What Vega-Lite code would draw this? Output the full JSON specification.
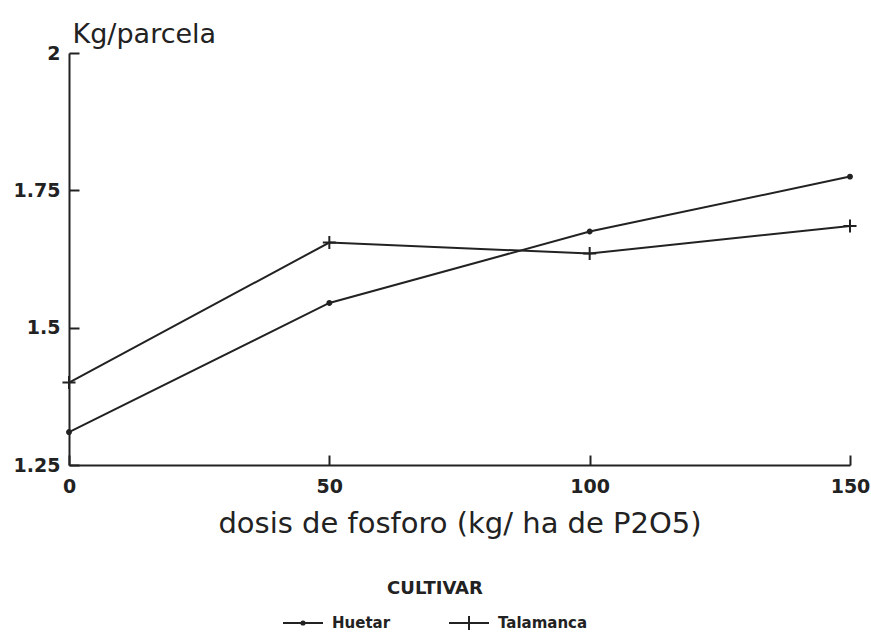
{
  "$schema": "https://vega.github.io/schema/vega-lite/v6.json",
  "width": 781,
  "height": 412,
  "autosize": "none",
  "padding": {"left": 69, "top": 53, "right": 21, "bottom": 170},
  "background": "white",
  "config": {
    "view": {"stroke": null},
    "axis": {
      "grid": false,
      "domainColor": "#222",
      "domainWidth": 2,
      "tickColor": "#222",
      "tickWidth": 2,
      "labelColor": "#222",
      "titleColor": "#222"
    }
  },
  "data": {
    "values": [
      {"dosis": 0, "kg": 1.31, "cultivar": "Huetar"},
      {"dosis": 50, "kg": 1.545, "cultivar": "Huetar"},
      {"dosis": 100, "kg": 1.675, "cultivar": "Huetar"},
      {"dosis": 150, "kg": 1.775, "cultivar": "Huetar"},
      {"dosis": 0, "kg": 1.4, "cultivar": "Talamanca"},
      {"dosis": 50, "kg": 1.655, "cultivar": "Talamanca"},
      {"dosis": 100, "kg": 1.635, "cultivar": "Talamanca"},
      {"dosis": 150, "kg": 1.685, "cultivar": "Talamanca"}
    ]
  },
  "resolve": {"scale": {"shape": "independent"}, "legend": {"shape": "independent"}},
  "layer": [
    {
      "mark": {"type": "line", "color": "#222", "strokeWidth": 2},
      "encoding": {
        "x": {
          "field": "dosis",
          "type": "quantitative",
          "scale": {"domain": [0, 150], "nice": false, "zero": false},
          "axis": {
            "values": [0, 50, 100, 150],
            "tickSize": -10,
            "labelPadding": 22,
            "labelFont": "DejaVu Sans",
            "labelFontWeight": "bold",
            "labelFontSize": 19,
            "labelFlush": false,
            "title": "dosis de fosforo (kg/ ha de P2O5)",
            "titleFont": "DejaVu Sans",
            "titleFontWeight": "normal",
            "titleFontSize": 29,
            "titleBaseline": "alphabetic",
            "titleY": 67
          }
        },
        "y": {
          "field": "kg",
          "type": "quantitative",
          "scale": {"domain": [1.25, 2], "nice": false, "zero": false},
          "axis": {
            "values": [1.25, 1.5, 1.75, 2],
            "labelExpr": "'' + datum.value",
            "tickSize": -10,
            "labelPadding": 19,
            "labelFont": "DejaVu Sans",
            "labelFontWeight": "bold",
            "labelFontSize": 19,
            "labelFlush": false,
            "title": "Kg/parcela",
            "titleAngle": 0,
            "titleAlign": "left",
            "titleBaseline": "alphabetic",
            "titleX": 3,
            "titleY": -11,
            "titleFont": "DejaVu Sans",
            "titleFontWeight": "normal",
            "titleFontSize": 27
          }
        },
        "detail": {"field": "cultivar"}
      }
    },
    {
      "mark": {"type": "point", "filled": true, "fill": "#222", "stroke": "#222", "strokeWidth": 2, "opacity": 1, "size": 170},
      "encoding": {
        "x": {"field": "dosis", "type": "quantitative"},
        "y": {"field": "kg", "type": "quantitative"},
        "shape": {
          "field": "cultivar",
          "type": "nominal",
          "scale": {"domain": ["Huetar", "Talamanca"], "range": ["M-0.3,0A0.3,0.3,0,1,0,0.3,0A0.3,0.3,0,1,0,-0.3,0", "M0,-1V1M-1,0H1"]},
          "legend": null
        }
      }
    },
    {
      "transform": [{"filter": "false"}],
      "mark": {"type": "point", "filled": false, "color": "#222", "strokeWidth": 2, "opacity": 1, "size": 1600},
      "encoding": {
        "x": {"field": "dosis", "type": "quantitative"},
        "y": {"field": "kg", "type": "quantitative"},
        "shape": {
          "field": "cultivar",
          "type": "nominal",
          "scale": {"domain": ["Huetar", "Talamanca"], "range": ["M0,-0.35L0,-0.35M0,0.35L0,0.35M-1,0H1M-0.08,0A0.08,0.08,0,1,0,0.08,0A0.08,0.08,0,1,0,-0.08,0", "M-1,0H1M0,-0.35V0.35"]},
          "legend": {
            "title": "CULTIVAR",
            "orient": "none",
            "legendX": 213,
            "legendY": 527,
            "direction": "horizontal",
            "titleAnchor": "middle",
            "titleFont": "DejaVu Sans",
            "titleFontSize": 18,
            "titleFontWeight": "bold",
            "titleColor": "#222",
            "titlePadding": 4,
            "labelFont": "DejaVu Sans",
            "labelFontSize": 15,
            "labelFontWeight": "bold",
            "labelColor": "#222",
            "labelOffset": 8,
            "columnPadding": 54,
            "symbolSize": 1600,
            "symbolStrokeWidth": 2,
            "symbolStrokeColor": "#222",
            "symbolOpacity": 1
          }
        }
      }
    }
  ]
}
